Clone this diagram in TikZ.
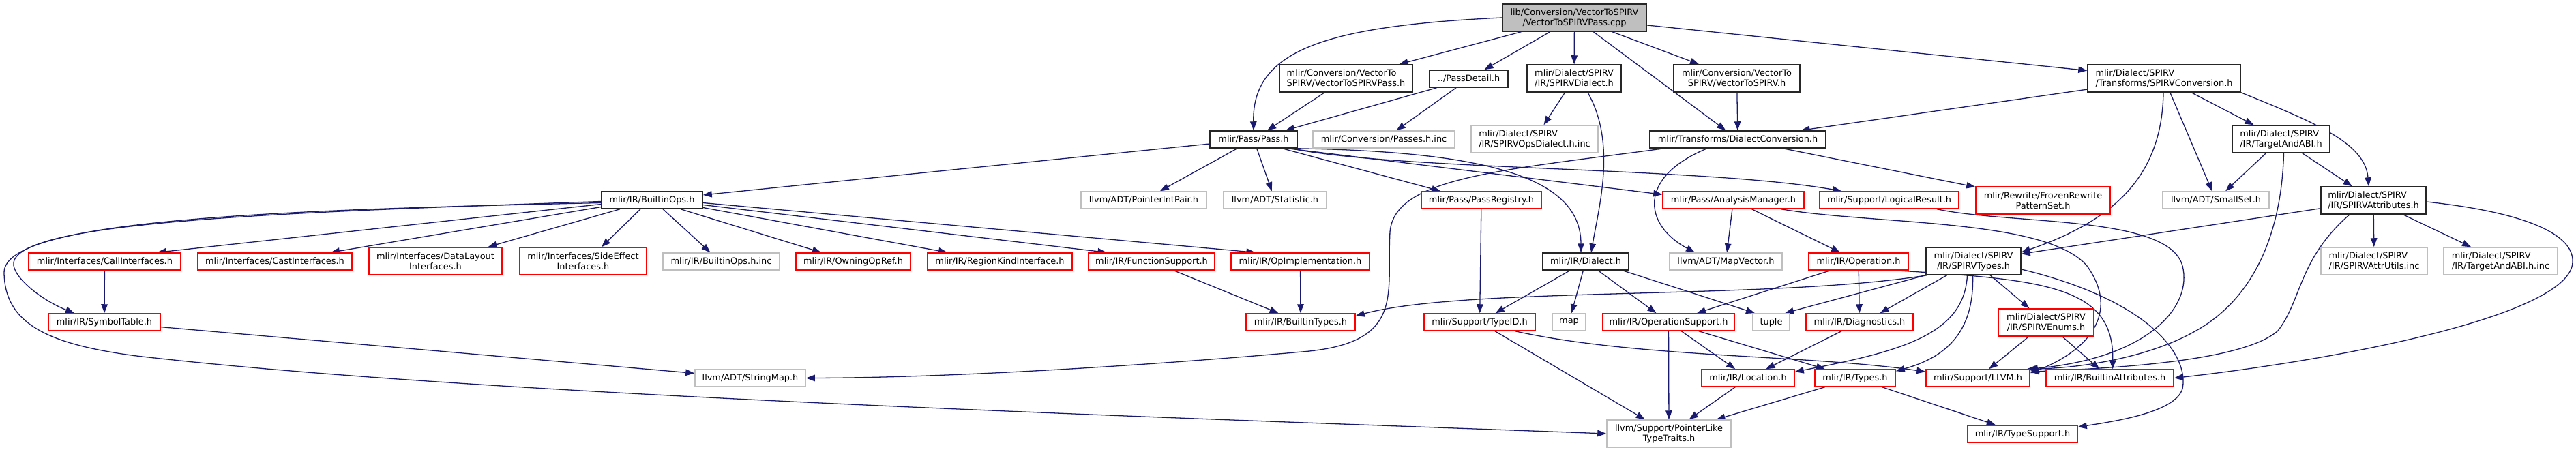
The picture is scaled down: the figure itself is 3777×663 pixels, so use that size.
\documentclass[tikz,border=0pt]{standalone}
\usepackage{fontspec}
\setmainfont{DejaVu Sans}
\usetikzlibrary{arrows.meta,backgrounds}
\definecolor{edgeblue}{HTML}{191970}
\definecolor{nodegray}{HTML}{BFBFBF}
\definecolor{nodered}{HTML}{FF0000}
\begin{document}
\begin{tikzpicture}[x=1pt,y=-1pt,
  box/.style={draw, rectangle, inner sep=0pt, fill=white, line width=1.5pt,
    font=\fontsize{12.9}{15}\selectfont, align=center},
  blk/.style={box, draw=black!85},
  rednode/.style={box, draw=nodered},
  graynode/.style={box, draw=nodegray},
  rootnode/.style={box, draw=black!85, fill=nodegray},
  lft/.style={align=left},
  e/.style={draw=edgeblue, line width=1.3pt, -{Triangle[length=13pt,width=9.5pt]}}
]
\useasboundingbox (0,0) rectangle (3777,663);

% ---------- nodes ----------
\node[rootnode, minimum width=211pt, minimum height=40pt] (root) at (2308.5,26) {lib/Conversion/VectorToSPIRV\\/VectorToSPIRVPass.cpp};
\node[blk, lft, minimum width=195pt, minimum height=40pt] (v2spass) at (1973.5,115) {mlir/Conversion/VectorTo\\SPIRV/VectorToSPIRVPass.h};
\node[blk, minimum width=115pt, minimum height=25pt] (passdetail) at (2153.5,115.5) {../PassDetail.h};
\node[blk, lft, minimum width=138pt, minimum height=40pt] (spirvdialect) at (2308,115) {mlir/Dialect/SPIRV\\/IR/SPIRVDialect.h};
\node[blk, minimum width=185pt, minimum height=40pt] (v2s) at (2546.5,115) {mlir/Conversion/VectorTo\\SPIRV/VectorToSPIRV.h};
\node[blk, lft, minimum width=224pt, minimum height=40pt] (spirvconv) at (3173,115) {mlir/Dialect/SPIRV\\/Transforms/SPIRVConversion.h};

\node[blk, minimum width=128pt, minimum height=25pt] (passh) at (1838,204.5) {mlir/Pass/Pass.h};
\node[graynode, minimum width=208pt, minimum height=25pt] (passesinc) at (2029,204.5) {mlir/Conversion/Passes.h.inc};
\node[graynode, lft, minimum width=186pt, minimum height=40pt] (opsdialectinc) at (2250,204) {mlir/Dialect/SPIRV\\/IR/SPIRVOpsDialect.h.inc};
\node[blk, minimum width=258pt, minimum height=25pt] (dialectconv) at (2548,204.5) {mlir/Transforms/DialectConversion.h};
\node[blk, lft, minimum width=143pt, minimum height=40pt] (targetabi) at (3344.5,204) {mlir/Dialect/SPIRV\\/IR/TargetAndABI.h};

\node[blk, minimum width=148pt, minimum height=25pt] (builtinops) at (956,293.5) {mlir/IR/BuiltinOps.h};
\node[graynode, minimum width=184pt, minimum height=25pt] (pointerintpair) at (1677,293.5) {llvm/ADT/PointerIntPair.h};
\node[graynode, minimum width=151pt, minimum height=25pt] (statistic) at (1869.5,293.5) {llvm/ADT/Statistic.h};
\node[rednode, minimum width=176pt, minimum height=25pt] (passregistry) at (2172,293.5) {mlir/Pass/PassRegistry.h};
\node[rednode, minimum width=207pt, minimum height=25pt] (analysismgr) at (2541.5,293.5) {mlir/Pass/AnalysisManager.h};
\node[rednode, minimum width=204pt, minimum height=25pt] (logicalresult) at (2770,293.5) {mlir/Support/LogicalResult.h};
\node[rednode, minimum width=197pt, minimum height=40pt] (frozen) at (2995.5,294) {mlir/Rewrite/FrozenRewrite\\PatternSet.h};
\node[graynode, minimum width=156pt, minimum height=25pt] (smallset) at (3249,293.5) {llvm/ADT/SmallSet.h};
\node[blk, lft, minimum width=154pt, minimum height=40pt] (spirvattr) at (3480,294) {mlir/Dialect/SPIRV\\/IR/SPIRVAttributes.h};

\node[rednode, minimum width=223pt, minimum height=25pt] (callif) at (153.5,383.5) {mlir/Interfaces/CallInterfaces.h};
\node[rednode, minimum width=226pt, minimum height=25pt] (castif) at (403,383.5) {mlir/Interfaces/CastInterfaces.h};
\node[rednode, minimum width=195pt, minimum height=40pt] (datalayout) at (638.5,383) {mlir/Interfaces/DataLayout\\Interfaces.h};
\node[rednode, minimum width=186pt, minimum height=40pt] (sideeffect) at (855,383) {mlir/Interfaces/SideEffect\\Interfaces.h};
\node[graynode, minimum width=171pt, minimum height=25pt] (builtinopsinc) at (1057.5,383.5) {mlir/IR/BuiltinOps.h.inc};
\node[rednode, minimum width=168pt, minimum height=25pt] (owningopref) at (1251,383.5) {mlir/IR/OwningOpRef.h};
\node[rednode, minimum width=212pt, minimum height=25pt] (regionkind) at (1466,383.5) {mlir/IR/RegionKindInterface.h};
\node[rednode, minimum width=185pt, minimum height=25pt] (funcsupport) at (1688.5,383.5) {mlir/IR/FunctionSupport.h};
\node[rednode, minimum width=203pt, minimum height=25pt] (opimpl) at (1906.5,383.5) {mlir/IR/OpImplementation.h};
\node[blk, minimum width=126pt, minimum height=25pt] (dialect) at (2325,383.5) {mlir/IR/Dialect.h};
\node[graynode, minimum width=165pt, minimum height=25pt] (mapvector) at (2530.5,383.5) {llvm/ADT/MapVector.h};
\node[rednode, minimum width=146pt, minimum height=25pt] (operation) at (2725,383.5) {mlir/IR/Operation.h};
\node[blk, minimum width=139pt, minimum height=40pt] (spirvtypes) at (2893.5,383) {mlir/Dialect/SPIRV\\/IR/SPIRVTypes.h};
\node[graynode, lft, minimum width=156pt, minimum height=40pt] (attrutils) at (3481,383) {mlir/Dialect/SPIRV\\/IR/SPIRVAttrUtils.inc};
\node[graynode, lft, minimum width=167pt, minimum height=40pt] (targetabiinc) at (3666.5,383) {mlir/Dialect/SPIRV\\/IR/TargetAndABI.h.inc};

\node[rednode, minimum width=164pt, minimum height=25pt] (symboltable) at (153,472.5) {mlir/IR/SymbolTable.h};
\node[rednode, minimum width=160pt, minimum height=25pt] (builtintypes) at (1907,472.5) {mlir/IR/BuiltinTypes.h};
\node[rednode, minimum width=163pt, minimum height=25pt] (typeid) at (2169.5,472.5) {mlir/Support/TypeID.h};
\node[graynode, minimum width=49pt, minimum height=25pt] (map) at (2300.5,472.5) {map};
\node[rednode, minimum width=193pt, minimum height=25pt] (opsupport) at (2446.5,472.5) {mlir/IR/OperationSupport.h};
\node[graynode, minimum width=54pt, minimum height=25pt] (tuple) at (2597,472.5) {tuple};
\node[rednode, minimum width=157pt, minimum height=25pt] (diagnostics) at (2726.5,472.5) {mlir/IR/Diagnostics.h};
\node[rednode, minimum width=139pt, minimum height=40pt] (spirvenums) at (3000,473) {mlir/Dialect/SPIRV\\/IR/SPIRVEnums.h};

\node[graynode, minimum width=162pt, minimum height=25pt] (stringmap) at (1100,554.5) {llvm/ADT/StringMap.h};
\node[rednode, minimum width=136pt, minimum height=25pt] (location) at (2563,554.5) {mlir/IR/Location.h};
\node[rednode, minimum width=118pt, minimum height=25pt] (types) at (2720,554.5) {mlir/IR/Types.h};
\node[rednode, minimum width=152pt, minimum height=25pt] (llvm) at (2900,554.5) {mlir/Support/LLVM.h};
\node[rednode, minimum width=187pt, minimum height=25pt] (builtinattrs) at (3093.5,554.5) {mlir/IR/BuiltinAttributes.h};

\node[graynode, minimum width=182pt, minimum height=40pt] (pointerlike) at (2447,636) {llvm/Support/PointerLike\\TypeTraits.h};
\node[rednode, minimum width=161pt, minimum height=25pt] (typesupport) at (2965.5,636.5) {mlir/IR/TypeSupport.h};

% ---------- edges ----------
\begin{scope}[on background layer]
% root
\draw[e] (root) -- (v2spass);
\draw[e] (root) -- (passdetail);
\draw[e] (root) -- (spirvdialect);
\draw[e] (root) -- (dialectconv);
\draw[e] (root) -- (v2s);
\draw[e] (root) -- (spirvconv);
\draw[e] (root.west) .. controls (1940,38) and (1836,75) .. (passh.north);
% second row
\draw[e] (v2spass) -- (passh);
\draw[e] (passdetail) -- (passh);
\draw[e] (passdetail) -- (passesinc);
\draw[e] (spirvdialect) -- (opsdialectinc);
\draw[e] ([xshift=20pt]spirvdialect.south) .. controls (2370,210) and (2345,300) .. ([xshift=8pt]dialect.north);
\draw[e] (v2s) -- (dialectconv);
\draw[e] (spirvconv) -- (dialectconv);
\draw[e] ([xshift=-1pt]spirvconv.south) .. controls (3170,250) and (3110,320) .. ([yshift=13pt]spirvtypes.east);
\draw[e] (spirvconv) -- (smallset);
\draw[e] (spirvconv) -- (targetabi);
\draw[e] (spirvconv.south east) .. controls (3395,180) and (3468,210) .. ([xshift=-7pt]spirvattr.north);
% TargetAndABI
\draw[e] (targetabi) -- (smallset);
\draw[e] (targetabi) -- (spirvattr);
\draw[e] ([xshift=4pt]targetabi.south) .. controls (3345,350) and (3300,440) .. (3220,485)
   .. controls (3150,525) and (3050,540) .. ([xshift=-5pt]llvm.north east);
% SPIRVAttributes
\draw[e] (spirvattr) -- (spirvtypes);
\draw[e] (spirvattr) -- (attrutils);
\draw[e] (spirvattr) -- (targetabiinc);
\draw[e] ([yshift=-2pt]spirvattr.east) .. controls (3690,310) and (3775,340) .. (3772,385)
   .. controls (3768,460) and (3450,525) .. (builtinattrs.east);
\draw[e] ([xshift=-35pt]spirvattr.south) .. controls (3370,380) and (3375,440) .. (3340,485)
   .. controls (3290,530) and (3100,540) .. ([yshift=-4pt]llvm.north east);
% DialectConversion
\draw[e] ([xshift=-108pt]dialectconv.south) .. controls (2200,250) and (2045,260) .. (2038,340)
   .. controls (2033,430) and (2060,500) .. (1920,515)
   .. controls (1700,535) and (1400,554) .. (stringmap.east);
\draw[e] ([xshift=-45pt]dialectconv.south) .. controls (2400,260) and (2410,330) .. ([xshift=-45.5pt]mapvector.north);
\draw[e] (dialectconv) -- (frozen);
% Pass.h
\draw[e] (passh) -- (builtinops);
\draw[e] (passh) -- (pointerintpair);
\draw[e] (passh) -- (statistic);
\draw[e] ([xshift=42pt]passh.south) -- ([xshift=-60pt]passregistry.north);
\draw[e] ([xshift=50pt]passh.south) -- ([yshift=-5pt]analysismgr.north west);
\draw[e] ([xshift=55pt]passh.south) .. controls (2050,250) and (2500,245) .. ([xshift=-70pt]logicalresult.north);
\draw[e] ([xshift=60pt]passh.south) .. controls (2180,222) and (2318,260) .. ([xshift=-7pt]dialect.north);
% BuiltinOps
\draw[e] ([yshift=-6pt]builtinops.west) -- ([xshift=77pt]callif.north);
\draw[e] ([yshift=-10pt]builtinops.west) -- ([xshift=82pt]castif.north);
\draw[e] ([xshift=-47pt]builtinops.south) -- ([xshift=77pt]datalayout.north);
\draw[e] ([xshift=-17pt]builtinops.south) -- ([xshift=27pt]sideeffect.north);
\draw[e] ([xshift=16pt]builtinops.south) -- ([xshift=-16pt]builtinopsinc.north);
\draw[e] ([xshift=42pt]builtinops.south) -- ([xshift=-47pt]owningopref.north);
\draw[e] ([yshift=-11pt]builtinops.east) -- ([xshift=-77pt]regionkind.north);
\draw[e] ([yshift=-7pt]builtinops.east) -- ([xshift=-66pt]funcsupport.north);
\draw[e] ([yshift=-4pt]builtinops.east) -- ([xshift=-66pt]opimpl.north);
\draw[e] ([yshift=-2pt]builtinops.west) .. controls (400,312) and (30,325) .. (20,385)
   .. controls (17,405) and (60,440) .. ([xshift=-44pt]symboltable.north);
\draw[e] ([yshift=-4pt]builtinops.west) .. controls (400,308) and (5,322) .. (6,400)
   .. controls (7,475) and (70,505) .. (200,522)
   .. controls (700,580) and (1700,612) .. (pointerlike.west);
\draw[e] (callif) -- (symboltable);
\draw[e] (symboltable) -- (stringmap);
\draw[e] (funcsupport) -- (builtintypes);
\draw[e] (opimpl) -- (builtintypes);
% Dialect
\draw[e] (dialect) -- (typeid);
\draw[e] (dialect) -- (map);
\draw[e] (dialect) -- (opsupport);
\draw[e] ([xshift=54pt]dialect.south) -- ([xshift=-24pt]tuple.north);
\draw[e] (passregistry) -- (typeid);
% AnalysisManager / LogicalResult
\draw[e] (analysismgr) -- (mapvector);
\draw[e] (analysismgr) -- (operation);
\draw[e] ([xshift=70pt]analysismgr.south) .. controls (2750,330) and (3000,320) .. (3060,390)
   .. controls (3110,460) and (3060,515) .. ([yshift=-6pt]llvm.north east);
\draw[e] ([xshift=70pt]logicalresult.south) .. controls (2950,330) and (3180,315) .. (3200,390)
   .. controls (3215,450) and (3150,525) .. ([xshift=-2pt]llvm.north east);
% Operation
\draw[e] (operation) -- (opsupport);
\draw[e] (operation) -- (diagnostics);
\draw[e] ([xshift=-20pt]operation.south east) .. controls (3000,410) and (3100,420) .. ([xshift=4pt]builtinattrs.north);
% SPIRVTypes
\draw[e] ([xshift=2pt]spirvtypes.south west) .. controls (2600,440) and (2150,420) .. ([yshift=-4pt]builtintypes.north east);
\draw[e] (spirvtypes.south west) -- ([xshift=20pt]tuple.north);
\draw[e] ([xshift=-39pt]spirvtypes.south) -- ([xshift=30pt]diagnostics.north);
\draw[e] ([xshift=-9pt]spirvtypes.south) .. controls (2880,490) and (2790,515) .. ([yshift=-4pt]location.north east);
\draw[e] ([xshift=-1pt]spirvtypes.south) .. controls (2895,490) and (2850,525) .. ([yshift=-3pt]types.north east);
\draw[e] (spirvtypes) -- (spirvenums);
\draw[e] ([yshift=-12pt]spirvtypes.east) .. controls (3150,440) and (3210,520) .. (3200,570)
   .. controls (3190,605) and (3100,618) .. ([yshift=-3pt]typesupport.north east);
% SPIRVEnums
\draw[e] (spirvenums) -- (llvm);
\draw[e] (spirvenums) -- (builtinattrs);
% OperationSupport, TypeID, etc.
\draw[e] (opsupport) -- (pointerlike);
\draw[e] (opsupport) -- (location);
\draw[e] (opsupport) -- (types);
\draw[e] (typeid) -- (pointerlike);
\draw[e] ([xshift=52pt]typeid.south) .. controls (2400,525) and (2650,520) .. ([yshift=-4pt]llvm.north west);
\draw[e] (diagnostics) -- (location);
\draw[e] (location) -- (pointerlike);
\draw[e] (types) -- (pointerlike);
\draw[e] (types) -- (typesupport);
\end{scope}
\end{tikzpicture}
\end{document}
